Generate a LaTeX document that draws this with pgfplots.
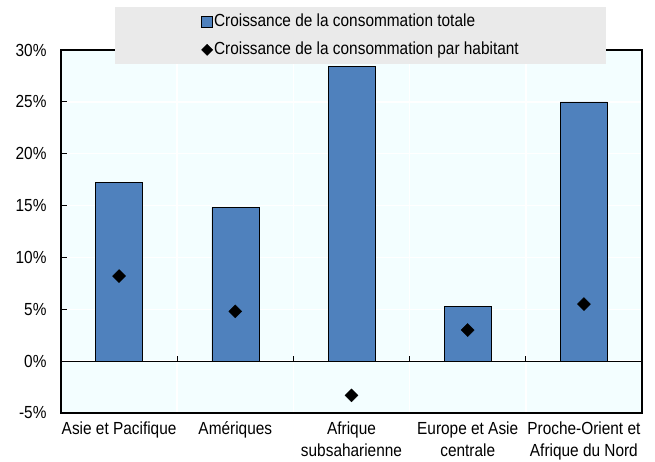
\documentclass[border=0pt]{standalone}
\usepackage{pgfplots}
\pgfplotsset{compat=1.18}
\usepackage{fontspec}
\setmainfont{Liberation Sans}[FakeStretch=0.88]

\definecolor{barblue}{RGB}{79,129,189}
\definecolor{plotbg}{RGB}{243,254,255}
\definecolor{legbg}{RGB}{234,234,234}

\pgfplotsset{
  square legend/.style={
    legend image code/.code={\draw[##1, line width=0.8pt] (0pt,-5.5pt) rectangle (11pt,5.5pt);}
  },
  diamond legend/.style={
    legend image code/.code={\draw[##1, mark size=3.9pt] plot coordinates {(5.5pt,0pt)};}
  },
}

\begin{document}
\begin{tikzpicture}
\begin{axis}[
  scale only axis,
  width=581pt, height=363pt,
  xmin=-0.5, xmax=4.5,
  ymin=-5, ymax=30,
  axis background/.style={fill=plotbg},
  axis line style={black, line width=1.2pt},
  font=\fontsize{17.5}{22}\selectfont,
  xtick={0,1,2,3,4},
  xticklabels={{Asie et Pacifique},{Amériques},{Afrique\\subsaharienne},{Europe et Asie\\centrale},{Proche-Orient et\\Afrique du Nord}},
  xticklabel style={align=center, yshift=-5pt},
  major x tick style={draw=none},
  minor xtick={0.5,1.5,2.5,3.5},
  minor x tick style={draw=none},
  xminorgrids,
  minor x grid style={white, line width=1.5pt},
  ytick={-5,0,5,10,15,20,25,30},
  yticklabels={-5\%,0\%,5\%,10\%,15\%,20\%,25\%,30\%},
  ytick pos=left, tick align=inside,
  major tick length=6pt,
  ymajorgrids,
  major y grid style={white, line width=1.5pt},
  y tick style={black, line width=0.8pt},
  yticklabel style={xshift=-11pt},
  legend cell align=left,
  legend style={
    at={(0.093,1.118)}, anchor=north west,
    fill=legbg, draw=none,
    inner xsep=86pt, inner ysep=5pt,
    row sep=9pt, column sep=0pt,
    font=\fontsize{17.5}{21}\selectfont,
    nodes={inner sep=1pt, text height=13pt, text depth=4pt},
  },
]
% total consumption growth by region
\addplot[ybar, bar width=47pt, fill=barblue, draw=black, line width=0.6pt, square legend]
  coordinates {(0,17.2) (1,14.8) (2,28.4) (3,5.3) (4,25.0)};
\addlegendentry{Croissance de la consommation totale}
% per-capita consumption growth
\addplot[only marks, mark=square*, mark size=4.6pt,
  mark options={rotate=45, fill=black, draw=black}, diamond legend]
  coordinates {(0,8.2) (1,4.8) (2,-3.3) (3,3.0) (4,5.5)};
\addlegendentry{Croissance de la consommation par habitant}
% zero line with separators between regions
\draw[black, line width=1pt] (axis cs:-0.5,0) -- (axis cs:4.5,0);
\draw[black, line width=0.8pt] (axis cs:0.5,0) -- ([yshift=5pt]axis cs:0.5,0);
\draw[black, line width=0.8pt] (axis cs:1.5,0) -- ([yshift=5pt]axis cs:1.5,0);
\draw[black, line width=0.8pt] (axis cs:2.5,0) -- ([yshift=5pt]axis cs:2.5,0);
\draw[black, line width=0.8pt] (axis cs:3.5,0) -- ([yshift=5pt]axis cs:3.5,0);
\end{axis}
\pgfresetboundingbox
\path[use as bounding box] ([xshift=-61pt,yshift=-48pt]current axis.south west) rectangle ([xshift=13pt,yshift=50pt]current axis.north east);
\end{tikzpicture}
\end{document}
